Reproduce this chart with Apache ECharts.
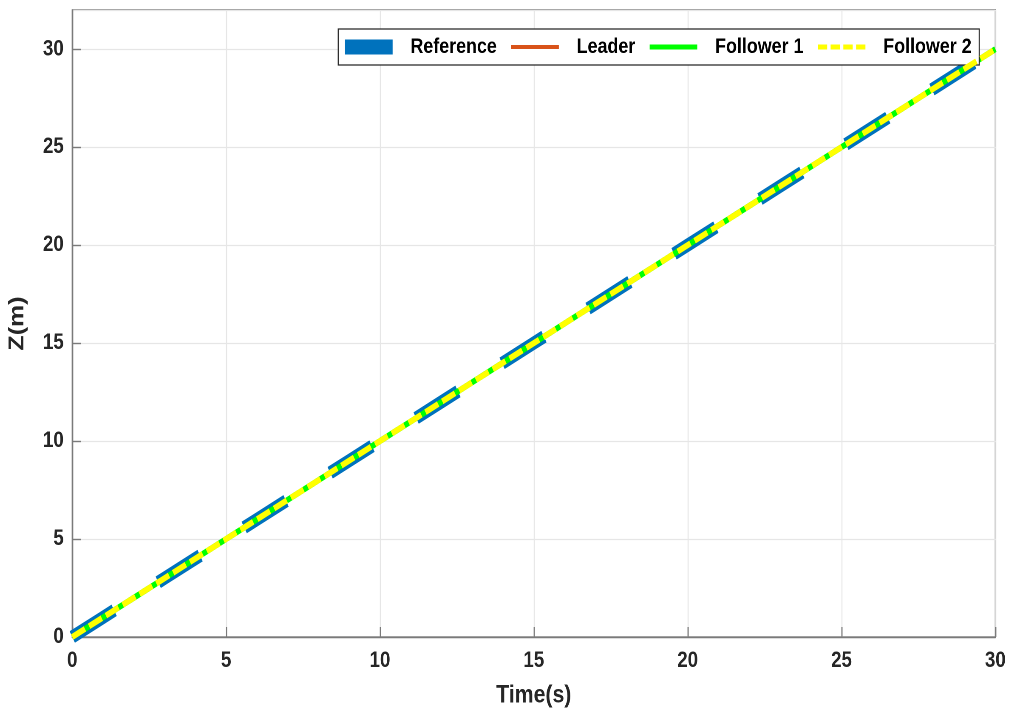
<!DOCTYPE html>
<html>
<head>
<meta charset="utf-8">
<script src="https://cdn.jsdelivr.net/npm/echarts@6/dist/echarts.min.js"></script>
<style>
html,body{margin:0;padding:0;background:#fff;overflow:hidden;}
#wrap{width:1015px;height:713px;overflow:hidden;}
#c{width:1194px;height:713px;transform:scaleX(0.85);transform-origin:0 0;}
</style>
</head>
<body>
<div id="wrap"><div id="c"></div></div>
<script>
const time = [0,1,2,3,4,5,6,7,8,9,10,11,12,13,14,15,16,17,18,19,20,21,22,23,24,25,26,27,28,29,30];
const reference = [0,1,2,3,4,5,6,7,8,9,10,11,12,13,14,15,16,17,18,19,20,21,22,23,24,25,26,27,28,29,30];
const leader = [0,1,2,3,4,5,6,7,8,9,10,11,12,13,14,15,16,17,18,19,20,21,22,23,24,25,26,27,28,29,30];
const follower1 = [0,1,2,3,4,5,6,7,8,9,10,11,12,13,14,15,16,17,18,19,20,21,22,23,24,25,26,27,28,29,30];
const follower2 = [0,1,2,3,4,5,6,7,8,9,10,11,12,13,14,15,16,17,18,19,20,21,22,23,24,25,26,27,28,29,30];
const seriesNames = ['Reference','Leader','Follower 1','Follower 2'];
const xTicks = [0,5,10,15,20,25,30];
const yTicks = [0,5,10,15,20,25,30];

const FONT = "'Liberation Sans',Arial,Helvetica,sans-serif";
const pair = (ys) => time.map((t,i)=>[t, ys[i]]);

const chart = echarts.init(document.getElementById('c'), null, {renderer:'canvas', devicePixelRatio:2});
const AX = '#7a7a7a';
const axisCommon = {
  axisLine:{show:true, onZero:false, lineStyle:{color:AX, width:1.4}},
  axisTick:{show:true, inside:true, length:10, lineStyle:{color:AX, width:1.4}},
  splitLine:{show:true, lineStyle:{color:'#e6e6e6', width:1.2}},
  axisLabel:{color:'#262626', fontFamily:FONT, fontWeight:'bold', fontSize:22},
  nameTextStyle:{color:'#262626', fontFamily:FONT, fontWeight:'bold', fontSize:25}
};
const legendIcons = [
  'rect',
  'path://M0,0h56v4h-56z',
  'path://M0,0h56v5h-56z',
  'path://M0,0h11v5h-11z M15,0h11v5h-11z M30,0h11v5h-11z M45,0h11v5h-11z'
];
chart.setOption({
  animation:false,
  backgroundColor:'#fff',
  grid:{left:85, right:23, top:10, bottom:76, containLabel:false, show:true, borderColor:AX, borderWidth:1.4},
  legend:{
    data:seriesNames.map((n,i)=>({name:n, icon:legendIcons[i]})),
    right:42, top:29,
    orient:'horizontal',
    backgroundColor:'#fff',
    borderColor:'#262626', borderWidth:1.2,
    padding:[6,9,6,8],
    itemGap:17,
    itemWidth:56, itemHeight:15,
    symbolKeepAspect:true,
    itemStyle:{borderWidth:0},
    textStyle:{color:'#000', fontFamily:FONT, fontWeight:'bold', fontSize:21, lineHeight:24, padding:[0,0,0,16]}
  },
  xAxis:Object.assign({}, axisCommon, {
    type:'value', min:0, max:30, interval:5,
    name:'Time(s)', nameLocation:'middle', nameGap:46,
    axisLabel:Object.assign({}, axisCommon.axisLabel, {margin:13, formatter:(v)=>xTicks.includes(v)?String(v):''})
  }),
  yAxis:Object.assign({}, axisCommon, {
    type:'value', min:0, max:32, interval:5,
    name:'Z(m)', nameLocation:'middle', nameGap:52,
    axisLabel:Object.assign({}, axisCommon.axisLabel, {margin:10, showMaxLabel:false, formatter:(v)=>yTicks.includes(v)?String(v):''})
  }),
  series:[
    {name:seriesNames[0], type:'line', data:pair(reference), showSymbol:false, symbol:'none',
     lineStyle:{color:'#0072BD', width:13, type:[56,59], cap:'butt'}, itemStyle:{color:'#0072BD'}, z:1},
    {name:seriesNames[1], type:'line', data:pair(leader), showSymbol:false, symbol:'none',
     lineStyle:{color:'#D95319', width:4, type:'solid'}, itemStyle:{color:'#D95319'}, z:2},
    {name:seriesNames[2], type:'line', data:pair(follower1), showSymbol:false, symbol:'none',
     lineStyle:{color:'#00FF00', width:6, type:'solid'}, itemStyle:{color:'#00FF00'}, z:3},
    {name:seriesNames[3], type:'line', data:pair(follower2), showSymbol:false, symbol:'none',
     lineStyle:{color:'#FFFF00', width:6, type:[17,5.5], cap:'butt'}, itemStyle:{color:'#FFFF00'}, z:4}
  ]
});
</script>
</body>
</html>
